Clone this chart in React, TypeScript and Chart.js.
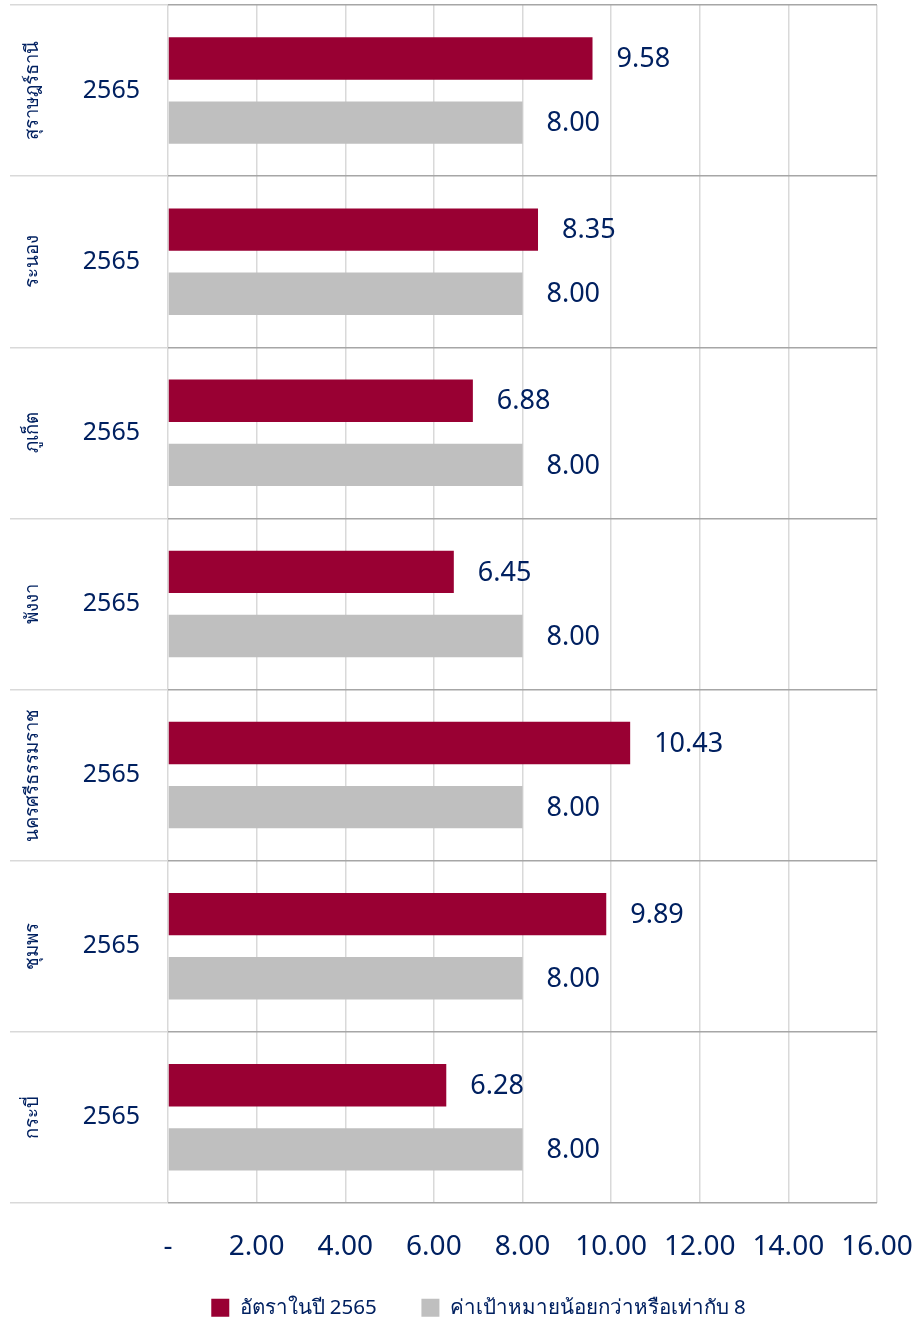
import React, { useEffect, useRef } from "react";
import { Chart, registerables } from "chart.js";

Chart.register(...registerables);

const provinces = ["สุราษฎร์ธานี", "ระนอง", "ภูเก็ต", "พังงา", "นครศรีธรรมราช", "ชุมพร", "กระบี่"];
const yearLabel = "2565";
const rateValues = [9.58, 8.35, 6.88, 6.45, 10.43, 9.89, 6.28];
const targetValues = [8.0, 8.0, 8.0, 8.0, 8.0, 8.0, 8.0];
const seriesNames = ["อัตราในปี 2565", "ค่าเป้าหมายน้อยกว่าหรือเท่ากับ 8"];
const xMin = 0;
const xMax = 16;
const xStep = 2;

const NAVY = "#002060";
const RED = "#990033";
const GRAY = "#bfbfbf";
const FONT = "'Noto Sans', 'Open Sans', sans-serif";

const provinceLabelPlugin = {
  id: "provinceLabels",
  afterDraw(chart: any) {
    const { ctx, scales } = chart;
    const y = scales.y;
    ctx.save();
    ctx.fillStyle = NAVY;
    ctx.font = `18.5px ${FONT}`;
    ctx.textAlign = "center";
    ctx.textBaseline = "middle";
    provinces.forEach((name, i) => {
      const py = y.getPixelForValue(i);
      ctx.save();
      ctx.translate(33, py);
      ctx.rotate(-Math.PI / 2);
      ctx.fillText(name, 0, 0);
      ctx.restore();
    });
    ctx.restore();
  },
};

const valueLabelPlugin = {
  id: "valueLabels",
  afterDatasetsDraw(chart: any) {
    const { ctx } = chart;
    ctx.save();
    ctx.fillStyle = NAVY;
    ctx.font = `27px ${FONT}`;
    ctx.textAlign = "left";
    ctx.textBaseline = "middle";
    chart.data.datasets.forEach((ds: any, di: number) => {
      const meta = chart.getDatasetMeta(di);
      meta.data.forEach((bar: any, i: number) => {
        const v = ds.data[i] as number;
        ctx.fillText(v.toFixed(2), bar.x + 24, bar.y + 1);
      });
    });
    ctx.restore();
  },
};

export default function App() {
  const ref = useRef<HTMLCanvasElement | null>(null);
  useEffect(() => {
    if (!ref.current) return;
    const defaultGen = Chart.defaults.plugins.legend.labels.generateLabels;
    const chart = new Chart(ref.current, {
      type: "bar",
      data: {
        labels: provinces,
        datasets: [
          {
            label: seriesNames[0],
            data: rateValues,
            backgroundColor: RED,
            categoryPercentage: 0.75,
            barPercentage: 0.66,
          },
          {
            label: seriesNames[1],
            data: targetValues,
            backgroundColor: GRAY,
            categoryPercentage: 0.75,
            barPercentage: 0.66,
          },
        ],
      },
      options: {
        indexAxis: "y",
        animation: false,
        responsive: true,
        maintainAspectRatio: false,
        layout: { padding: { top: 5, right: 42, left: 80, bottom: -4 } },
        scales: {
          x: {
            min: xMin,
            max: xMax,
            afterBuildTicks: (scale: any) => {
              const t = [];
              for (let v = xMin; v <= xMax; v += xStep) t.push({ value: v });
              scale.ticks = t;
            },
            grid: {
              color: "#d9d9d9",
              lineWidth: 1.5,
              drawTicks: true,
              tickLength: 27,
              tickColor: "rgba(0,0,0,0)",
            },
            border: { display: false },
            ticks: {
              padding: 0,
              color: NAVY,
              font: { family: FONT, size: 28 },
              maxRotation: 0,
              autoSkip: false,
              callback: (v: any) => (Number(v) === 0 ? "-" : Number(v).toFixed(2)),
            },
          },
          y: {
            afterFit: (scale: any) => {
              scale.width = 88;
            },
            grid: {
              offset: true,
              color: "#a6a6a6",
              tickColor: "#d9d9d9",
              lineWidth: 1.5,
              drawTicks: true,
              tickLength: 158,
            },
            border: { display: false },
            ticks: {
              padding: -130,
              color: NAVY,
              font: { family: FONT, size: 25 },
              callback: () => yearLabel,
            },
          },
        },
        plugins: {
          legend: {
            position: "bottom",
            labels: {
              boxWidth: 18,
              boxHeight: 18,
              padding: 34,
              color: NAVY,
              font: { family: FONT, size: 20.5 },
              generateLabels: (c: any) => {
                const items = defaultGen(c);
                if (items.length) items[0].text = items[0].text + "  ";
                return items;
              },
            },
          },
          tooltip: { enabled: false },
        },
      },
      plugins: [provinceLabelPlugin, valueLabelPlugin],
    });
    return () => chart.destroy();
  }, []);
  return (
    <div style={{ position: "absolute", left: 0, top: 0, width: 919, height: 1324 }}>
      <canvas ref={ref} />
    </div>
  );
}
